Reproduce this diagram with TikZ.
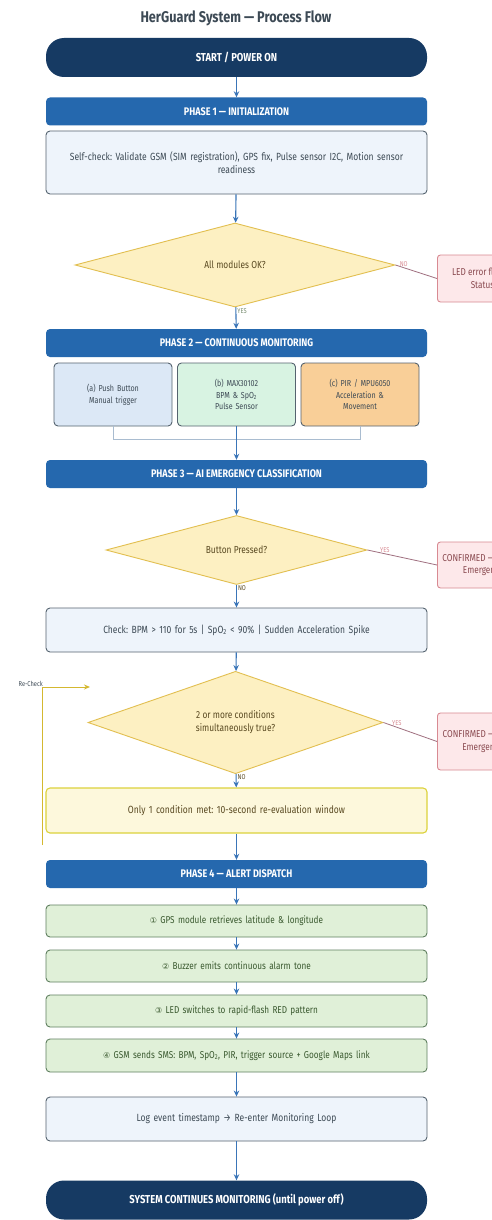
\documentclass[tikz,border=0pt]{standalone}
\usepackage{fontspec}
\setmainfont{Fira Sans}[FakeStretch=0.82]
\newfontfamily\symfont{DejaVu Sans}
\usetikzlibrary{shapes.geometric,arrows.meta}
\frenchspacing
\definecolor{navy}{HTML}{163A63}
\definecolor{phaseblue}{HTML}{2568AE}
\definecolor{lightbox}{HTML}{EEF4FB}
\definecolor{boxborder}{HTML}{55636F}
\definecolor{boxtext}{HTML}{3D4A55}
\definecolor{dfill}{HTML}{FDF0C2}
\definecolor{dborder}{HTML}{E2BF50}
\definecolor{dtext}{HTML}{5A4A22}
\definecolor{rfill}{HTML}{FDE8EA}
\definecolor{rborder}{HTML}{D88A92}
\definecolor{rtext}{HTML}{8A4A50}
\definecolor{sa}{HTML}{DCE8F6}
\definecolor{sb}{HTML}{D8F3E2}
\definecolor{sc}{HTML}{F9CF98}
\definecolor{yfill}{HTML}{FDF8DC}
\definecolor{yborder}{HTML}{DCD23C}
\definecolor{gfill}{HTML}{E0F0D8}
\definecolor{gborder}{HTML}{5F7F5F}
\definecolor{gtext}{HTML}{3B5A30}
\definecolor{arrowblue}{HTML}{3A75B8}
\definecolor{bracket}{HTML}{A9BCD0}
\definecolor{loopgold}{HTML}{D4B830}
\definecolor{rline}{HTML}{A07080}
\tikzset{
  terminal/.style={rounded corners=18pt, fill=navy, text=white, font=\bfseries\fontsize{11.5}{13}\selectfont, minimum width=381pt, minimum height=39pt, inner sep=0pt},
  phasebar/.style={rounded corners=4pt, fill=phaseblue, text=white, font=\bfseries\fontsize{11}{12}\selectfont, minimum width=381pt, minimum height=28pt, inner sep=0pt},
  procbox/.style={rounded corners=4pt, fill=lightbox, draw=boxborder, line width=0.9pt, text=boxtext, font=\fontsize{10.4}{13}\selectfont, minimum width=381pt, text width=360pt, align=center, inner sep=0pt},
  sensorbox/.style={rounded corners=4pt, draw=boxborder, line width=0.9pt, text=boxtext, font=\fontsize{8.7}{11.5}\selectfont, minimum width=118pt, minimum height=63pt, text width=105pt, align=center, inner sep=0pt},
  greenbox/.style={procbox, fill=gfill, draw=gborder, text=gtext, font=\fontsize{10}{12}\selectfont},
  yellowbox/.style={procbox, fill=yfill, draw=yborder, line width=1.1pt, text=dtext},
  decision/.style={diamond, fill=dfill, draw=dborder, line width=0.9pt, text=dtext, font=\fontsize{10.2}{13}\selectfont, align=center, inner sep=0pt},
  errbox/.style={rounded corners=3pt, fill=rfill, draw=rborder, line width=0.9pt, text=rtext, font=\fontsize{10}{12.5}\selectfont, minimum width=90pt, align=center, inner xsep=5pt, inner ysep=0pt, anchor=west},
  flow/.style={draw=arrowblue, line width=1.1pt, -{Stealth[length=6pt,width=5.5pt]}},
  rlink/.style={draw=rline, line width=0.8pt},
  lbl/.style={font=\fontsize{7}{8}\selectfont, inner sep=1pt},
}
\begin{document}
\begin{tikzpicture}[x=1pt,y=-1pt]
\useasboundingbox (0,0) rectangle (491,1220);
\fill[white] (0,0) rectangle (491,1220);

\node[font=\bfseries\fontsize{15.5}{17}\selectfont, text=boxtext] (title) at (236,18) {HerGuard System — Process Flow};

\node[terminal] (start) at (236.5,57.5) {START / POWER ON};
\node[phasebar] (p1) at (236.5,111.5) {PHASE 1 — INITIALIZATION};
\node[procbox, minimum height=63pt] (self) at (236.5,162.5) {Self-check: Validate GSM (SIM registration), GPS fix, Pulse sensor I2C, Motion sensor\\readiness};

\node[decision, minimum width=320pt, minimum height=84pt] (d1) at (235,265) {All modules OK?};
\node[errbox, minimum height=47pt] (e1) at (437,278.5) {LED error flash +\\Status};

\node[phasebar] (p2) at (236.5,343) {PHASE 2 — CONTINUOUS MONITORING};
\node[sensorbox, fill=sa] (sA) at (113,394.5) {(a) Push Button\\Manual trigger};
\node[sensorbox, fill=sb] (sB) at (236.5,394.5) {(b) MAX30102\\BPM \& SpO\textsubscript{2}\\Pulse Sensor};
\node[sensorbox, fill=sc] (sC) at (360,394.5) {(c) PIR / MPU6050\\Acceleration \&\\Movement};

\node[phasebar] (p3) at (236.5,474) {PHASE 3 — AI EMERGENCY CLASSIFICATION};
\node[decision, minimum width=261pt, minimum height=66pt] (d2) at (236.5,550) {Button Pressed?};
\node[errbox, minimum height=46pt] (e2) at (437,565) {CONFIRMED — Manual\\Emergency};

\node[procbox, minimum height=44pt] (check) at (236.5,630) {Check: BPM > 110 for 5s | SpO\textsubscript{2} < 90\% | Sudden Acceleration Spike};
\node[decision, minimum width=295pt, minimum height=85pt] (d3) at (235.5,722.5) {2 or more conditions\\simultaneously true?};
\node[errbox, minimum height=57pt] (e3) at (437,741.5) {CONFIRMED — Sensor\\Emergency};

\node[yellowbox, minimum height=45pt] (only) at (236.5,810.5) {Only 1 condition met: 10-second re-evaluation window};

\node[phasebar] (p4) at (236.5,874) {PHASE 4 — ALERT DISPATCH};
\node[greenbox, minimum height=32pt] (g1) at (236.5,921) {{\symfont\fontsize{8}{8}\selectfont ①} GPS module retrieves latitude \& longitude};
\node[greenbox, minimum height=32pt] (g2) at (236.5,966) {{\symfont\fontsize{8}{8}\selectfont ②} Buzzer emits continuous alarm tone};
\node[greenbox, minimum height=32pt] (g3) at (236.5,1011) {{\symfont\fontsize{8}{8}\selectfont ③} LED switches to rapid-flash RED pattern};
\node[greenbox, minimum height=33pt] (g4) at (236.5,1055.5) {{\symfont\fontsize{8}{8}\selectfont ④} GSM sends SMS: BPM, SpO\textsubscript{2}, PIR, trigger source + Google Maps link};
\node[procbox, minimum height=44pt] (log) at (236.5,1119) {Log event timestamp → Re-enter Monitoring Loop};
\node[terminal] (end) at (236.5,1200) {SYSTEM CONTINUES MONITORING (until power off)};

% flow
\draw[flow] (start) -- (p1);
\draw[flow] (self) -- (d1);
\draw[flow] (d1) -- node[lbl, right, pos=0.2, text=gtext!70] {YES} (p2);
\draw[rlink] (d1.east) -- node[lbl, pos=0.2, above, text=rborder] {NO} (e1.west);
\draw[draw=bracket, line width=1pt] (sA.south) -- ++(0,13) -| (sC.south);
\draw[flow] (sB) -- (p3);
\draw[flow] (p3) -- (d2);
\draw[rlink] (d2.east) -- node[lbl, pos=0.25, above, text=rborder] {YES} (e2.west);
\draw[flow] (d2) -- node[lbl, right, pos=0.15, text=dtext] {NO} (check);
\draw[flow] (check) -- (d3);
\draw[rlink] (d3.east) -- node[lbl, pos=0.25, above, text=rborder] {YES} (e3.west);
\draw[flow] (d3) -- node[lbl, right, pos=0.2, text=dtext] {NO} (only);
\draw[flow] (only) -- (p4);
\draw[flow] (p4) -- (g1);
\draw[flow] (g1) -- (g2);
\draw[flow] (g2) -- (g3);
\draw[flow] (g3) -- (g4);
\draw[flow] (g4) -- (log);
\draw[flow] (log) -- (end);

% re-check loop
\coordinate (rcs) at (42,845);
\coordinate (rce) at (90,687);
\draw[draw=loopgold, line width=1pt, -{Stealth[length=6pt,width=5pt]}] (rcs) |- (rce);
\node[lbl, text=boxtext, anchor=south east] (rclbl) at (44,688) {Re-Check};
\end{tikzpicture}
\end{document}
